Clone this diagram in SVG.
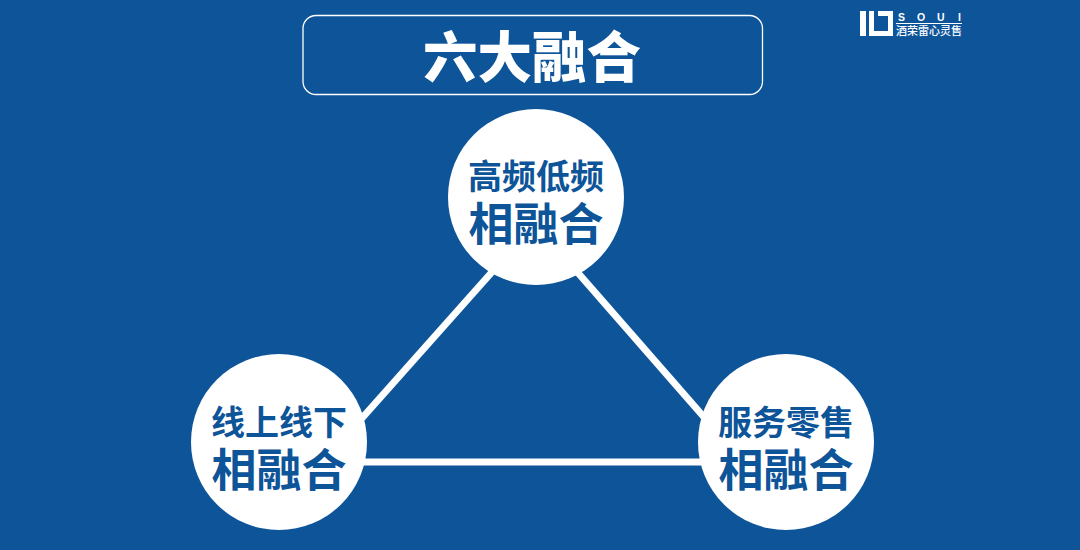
<svg xmlns="http://www.w3.org/2000/svg" width="1080" height="550" viewBox="0 0 1080 550">
<style>
text{font-family:"Noto Sans CJK SC","Noto Sans CJK TC",sans-serif;font-weight:700;text-anchor:middle}
.c{fill:#fff}
.n{fill:#0d5499}
.l1{font-size:34px}
.l2{font-size:45px}
.e{stroke:#fff;stroke-width:7;fill:none}
.w{fill:#fff}
</style>
<rect width="1080" height="550" fill="#0d5499"/>
<g id="connectors">
<line class="e" x1="500" y1="263" x2="355" y2="426"/>
<line class="e" x1="572" y1="266" x2="710" y2="424"/>
<line class="e" x1="350" y1="462" x2="715" y2="462"/>
</g>
<g id="title">
<rect x="303" y="15.500" width="459.500" height="79" rx="13" fill="none" stroke="#fff" stroke-width="1.300"/>
<text x="532" y="77" class="w" style="font-size:54.500px;font-weight:900">六大融合</text>
</g>
<g id="logo">
<path class="w" fill-rule="evenodd" d="M860 11h6v25h-6zM869 11h5v20h14v-15h-10v-5h15v25h-24z"/>
<text class="w" y="21" style="font-size:10.500px;font-weight:700;text-anchor:start;font-family:'Liberation Sans',sans-serif" x="898 917 937 958">SOUI</text>
<rect x="896" y="23" width="66" height="1" class="w"/>
<text x="929" y="35" class="w" style="font-size:11px;font-weight:500">酒荣雷心灵售</text>
</g>
<g id="node-top">
<circle class="c" cx="536" cy="197" r="88"/>
<text class="n"><tspan x="536" y="189" class="l1">高频低频</tspan><tspan x="536" y="241" class="l2">相融合</tspan></text>
</g>
<g id="node-left">
<circle class="c" cx="279" cy="442" r="88"/>
<text class="n"><tspan x="279" y="435" class="l1">线上线下</tspan><tspan x="279" y="487" class="l2">相融合</tspan></text>
</g>
<g id="node-right">
<circle class="c" cx="786" cy="442" r="88"/>
<text class="n"><tspan x="786" y="435" class="l1">服务零售</tspan><tspan x="786" y="487" class="l2">相融合</tspan></text>
</g>
</svg>
